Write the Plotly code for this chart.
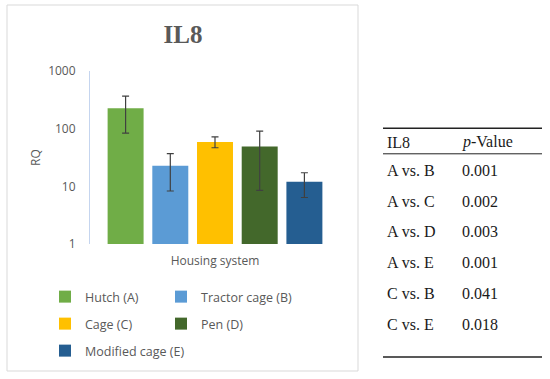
import plotly.graph_objects as go

# ---- data ----
category = ["Housing system"]
series_names = ["Hutch (A)", "Tractor cage (B)", "Cage (C)", "Pen (D)", "Modified cage (E)"]
rq_values = [227, 22.7, 59, 49, 12]
err_upper = [367, 37, 72, 91, 17.2]
err_lower = [84, 8.3, 46.7, 8.5, 6.4]
colors = ["#70AD47", "#5B9BD5", "#FFC000", "#43682B", "#255E91"]
legend_ids = ["legend", "legend2", "legend3", "legend4", "legend5"]
y_ticks = [1, 10, 100, 1000]
y_ticktext = ["1", "10", "100", "1000"]

table_header = ["IL8", "<i>p</i>-Value"]
table_comparisons = ["A vs. B", "A vs. C", "A vs. D", "A vs. E", "C vs. B", "C vs. E"]
table_pvalues = ["0.001", "0.002", "0.003", "0.001", "0.041", "0.018"]

# ---- layout geometry (pixels) ----
W, H = 550, 379
L, R, T, B = 90, 340, 71, 244


def px(x):
    return (x - L) / (R - L)


def py(y):
    return (B - y) / (B - T)


fig = go.Figure()
for name, v, hi, lo, c, lg in zip(series_names, rq_values, err_upper, err_lower, colors, legend_ids):
    fig.add_trace(go.Bar(
        x=category, y=[v], name=name, marker=dict(color=c, line=dict(width=0)),
        legend=lg, showlegend=True,
        error_y=dict(type="data", symmetric=False, array=[hi - v], arrayminus=[v - lo],
                     color="#404040", thickness=1.2, width=3.5),
    ))

gray = "#595959"
font = "Open Sans"

fig.update_layout(
    width=W, height=H, showlegend=True,
    margin=dict(l=L, r=W - R, t=T, b=H - B, pad=0, autoexpand=False),
    paper_bgcolor="white", plot_bgcolor="white",
    barmode="group", bargap=0.106, bargroupgap=0.195,
    title=dict(text="<b>IL8</b>", x=183 / W, y=1 - 34.5 / H, xanchor="center", yanchor="middle",
               font=dict(family="Liberation Serif", size=25, color=gray)),
    xaxis=dict(type="category", range=[-0.5, 0.5], showline=False, showgrid=False, ticks="",
               tickfont=dict(family=font, size=12, color=gray), ticklabelstandoff=8),
    yaxis=dict(type="log", range=[0, 3], tickvals=y_ticks, ticktext=y_ticktext,
               showline=True, linecolor="#c5d5ef", linewidth=1, showgrid=False, zeroline=False,
               ticks="", ticklabelstandoff=11,
               tickfont=dict(family=font, size=12, color=gray),
               title=dict(text="RQ", font=dict(family=font, size=12, color=gray), standoff=4)),
    font=dict(family=font, size=12, color=gray),
)

# legend entries: (text start x, row centre y)
legend_pos = [(85, 297), (201, 297), (85, 324), (201, 324), (85, 351)]
legend_cfg = {}
for lg, (tx, ty) in zip(legend_ids, legend_pos):
    legend_cfg[lg] = dict(orientation="h", xanchor="left", yanchor="middle",
                          x=px(tx - 40), y=py(ty), visible=True,
                          font=dict(family=font, size=12.5, color=gray),
                          bgcolor="rgba(0,0,0,0)", itemclick=False, itemdoubleclick=False)
fig.update_layout(**legend_cfg)

shapes = []
# chart frame
shapes.append(dict(type="rect", xref="paper", yref="paper", x0=px(7), x1=px(358), y0=py(5), y1=py(371),
                   line=dict(color="#d9d9d9", width=1), fillcolor="rgba(0,0,0,0)", layer="below"))
# table rules
for yy, lw in [(128.3, 1.5), (153.8, 1), (357, 1.5)]:
    shapes.append(dict(type="line", xref="paper", yref="paper", x0=px(383), x1=px(542), y0=py(yy), y1=py(yy),
                       line=dict(color="#222222", width=lw)))

annotations = []
tfont = dict(family="Liberation Serif", size=16, color="#1a1a1a")
col_x = [385, 460]
annotations.append(dict(text=table_header[0], x=px(col_x[0]), y=py(142), xref="paper", yref="paper",
                        xanchor="left", yanchor="middle", showarrow=False, font=tfont))
annotations.append(dict(text=table_header[1], x=px(col_x[1]), y=py(142), xref="paper", yref="paper",
                        xanchor="left", yanchor="middle", showarrow=False, font=tfont))
for i, (cmp_, pv) in enumerate(zip(table_comparisons, table_pvalues)):
    yy = 170.5 + i * 30.7
    annotations.append(dict(text=cmp_, x=px(col_x[0]), y=py(yy), xref="paper", yref="paper",
                            xanchor="left", yanchor="middle", showarrow=False, font=tfont))
    annotations.append(dict(text=pv, x=px(col_x[1]), y=py(yy), xref="paper", yref="paper",
                            xanchor="left", yanchor="middle", showarrow=False, font=tfont))

fig.update_layout(shapes=shapes, annotations=annotations)
fig.write_html("out.html", config={"displayModeBar": False},
               post_script="document.body.style.margin='0px';")
